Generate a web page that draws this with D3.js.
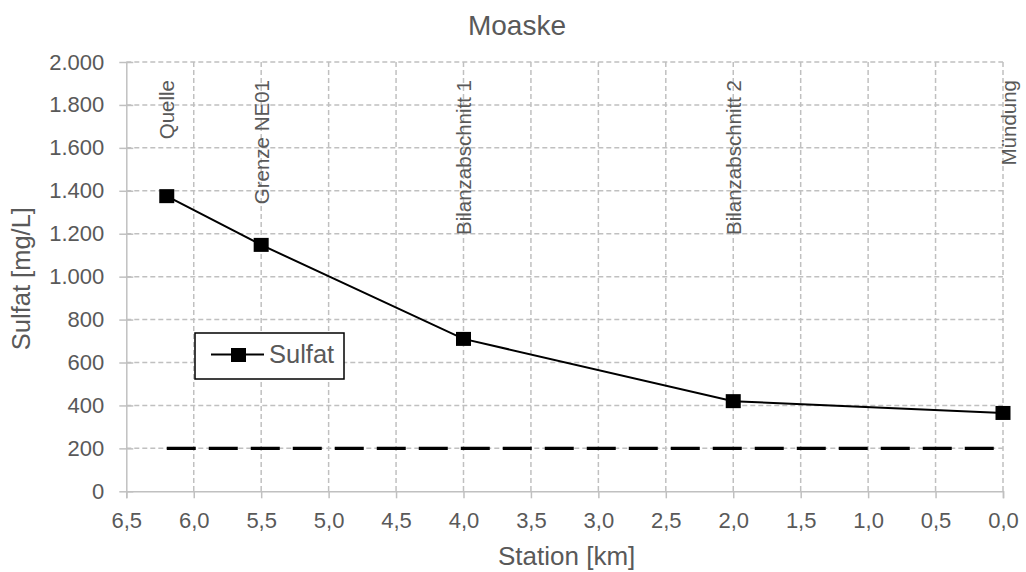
<!DOCTYPE html>
<html><head><meta charset="utf-8">
<script src="https://cdn.jsdelivr.net/npm/d3@7"></script>
<style>body{margin:0;background:#fff;} text{font-family:"Liberation Sans",Arial,sans-serif;}</style>
</head><body>
<svg id="c" width="1026" height="572"></svg>
<script>
const stations = [6.2, 5.5, 4.0, 2.0, 0.0];
const stationNames = ["Quelle", "Grenze NE01", "Bilanzabschnitt 1", "Bilanzabschnitt 2", "Mündung"];
const sulfat = [1375, 1148, 710, 420, 365];
const limitValue = 200;
const limitRange = [6.2, 0.0];
const xTicks = [6.5, 6.0, 5.5, 5.0, 4.5, 4.0, 3.5, 3.0, 2.5, 2.0, 1.5, 1.0, 0.5, 0.0];
const yTicks = [0, 200, 400, 600, 800, 1000, 1200, 1400, 1600, 1800, 2000];

const svg = d3.select("#c");
const L = 126.3, R = 1003, T = 62, B = 491.3;
const x = d3.scaleLinear().domain([6.5, 0]).range([L, R]);
const y = d3.scaleLinear().domain([0, 2000]).range([B, T]);
const grey = "#595959", gridC = "#c0c0c0";
const deFmt = d3.formatLocale({decimal: ",", thousands: ".", grouping: [3], currency: ["", "€"]});
const fy = deFmt.format(",.0f"), fx = deFmt.format(".1f");

// grid
svg.append("g").selectAll("line").data(yTicks.filter(d => d > 0)).join("line")
  .attr("x1", L).attr("x2", R).attr("y1", d => y(d)).attr("y2", d => y(d))
  .attr("stroke", gridC).attr("stroke-width", 1.5).attr("stroke-dasharray", "5,3");
svg.append("g").selectAll("line").data(xTicks.filter(d => d !== 6.5)).join("line")
  .attr("x1", d => x(d)).attr("x2", d => x(d)).attr("y1", T).attr("y2", B)
  .attr("stroke", gridC).attr("stroke-width", 1.5).attr("stroke-dasharray", "5,3");

// axes
const yAxis = d3.axisLeft(y).tickValues(yTicks).tickFormat(fy).tickSize(0).tickPadding(22);
const gy = svg.append("g").attr("transform", `translate(${L},0)`).call(yAxis);
gy.select(".domain").attr("stroke", gridC).attr("stroke-width", 1.5);
gy.selectAll("text").attr("fill", grey).attr("font-size", 22);
gy.selectAll(".tick").append("line").attr("x1", -7).attr("x2", 7).attr("stroke", gridC).attr("stroke-width", 1.5);

const xAxis = d3.axisBottom(x).tickValues(xTicks).tickFormat(fx).tickSize(7).tickPadding(14);
const gx = svg.append("g").attr("transform", `translate(0,${B})`).call(xAxis);
gx.select(".domain").attr("stroke", gridC).attr("stroke-width", 1.5);
gx.selectAll(".tick line").attr("stroke", gridC).attr("stroke-width", 1.5);
gx.selectAll("text").attr("fill", grey).attr("font-size", 22);

// limit line
svg.append("line").attr("x1", x(limitRange[0])).attr("x2", x(limitRange[1]))
  .attr("y1", y(limitValue)).attr("y2", y(limitValue))
  .attr("stroke", "#000").attr("stroke-width", 3.2).attr("stroke-dasharray", "29,13");

// series line
const pts = stations.map((s, i) => [s, sulfat[i]]);
svg.append("path").datum(pts).attr("fill", "none").attr("stroke", "#000").attr("stroke-width", 2)
  .attr("d", d3.line().x(d => x(d[0])).y(d => y(d[1])));
svg.append("g").selectAll("rect").data(pts).join("rect")
  .attr("x", d => x(d[0]) - 7.5).attr("y", d => y(d[1]) - 7).attr("width", 15).attr("height", 14).attr("fill", "#000");

// station labels
svg.append("g").selectAll("text").data(stations).join("text")
  .attr("transform", (d, i) => `translate(${x(d) + (i === stations.length - 1 ? 6 : 0)},80) rotate(-90)`)
  .attr("text-anchor", "end").attr("dy", "0.36em")
  .attr("fill", grey).attr("font-size", 20.5)
  .text((d, i) => stationNames[i]);

// titles
svg.append("text").attr("x", 517).attr("y", 35).attr("text-anchor", "middle")
  .attr("fill", grey).attr("font-size", 28).text("Moaske");
svg.append("text").attr("x", (L + R) / 2 + 2).attr("y", 565).attr("text-anchor", "middle")
  .attr("fill", grey).attr("font-size", 26).text("Station [km]");
svg.append("text").attr("transform", `translate(30,${(T + B) / 2 + 2}) rotate(-90)`).attr("text-anchor", "middle")
  .attr("fill", grey).attr("font-size", 25.5).text("Sulfat [mg/L]");

// legend
const lg = svg.append("g");
lg.append("rect").attr("x", 195).attr("y", 333).attr("width", 149).attr("height", 46)
  .attr("fill", "#fff").attr("stroke", "#000").attr("stroke-width", 1.5);
lg.append("line").attr("x1", 211).attr("x2", 264).attr("y1", 354.5).attr("y2", 354.5).attr("stroke", "#000").attr("stroke-width", 2);
lg.append("rect").attr("x", 231).attr("y", 348).attr("width", 15).attr("height", 14).attr("fill", "#000");
lg.append("text").attr("x", 269).attr("y", 363).attr("fill", grey).attr("font-size", 25.5).text("Sulfat");
</script>
</body></html>
